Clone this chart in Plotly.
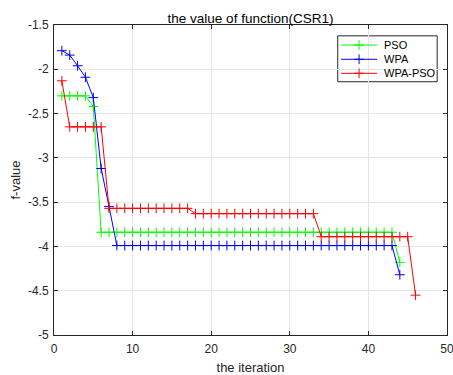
import plotly.graph_objects as go

# ---- data ----
pso_vals = [-2.30, -2.30, -2.30, -2.30, -2.42,
            -3.84, -3.84, -3.84, -3.84, -3.84, -3.84, -3.84, -3.84, -3.84, -3.84,
            -3.84, -3.84, -3.84, -3.84, -3.84, -3.84, -3.84, -3.84, -3.84, -3.84,
            -3.84, -3.84, -3.84, -3.84, -3.84, -3.84, -3.84, -3.84, -3.84, -3.84,
            -3.84, -3.84, -3.84, -3.84, -3.84, -3.84, -3.84, -3.84,
            -4.18]
wpa_vals = [-1.79, -1.84, -1.96, -2.09, -2.32, -3.12, -3.55,
            -3.99, -3.99, -3.99, -3.99, -3.99, -3.99, -3.99, -3.99, -3.99, -3.99,
            -3.99, -3.99, -3.99, -3.99, -3.99, -3.99, -3.99, -3.99, -3.99, -3.99,
            -3.99, -3.99, -3.99, -3.99, -3.99, -3.99, -3.99, -3.99, -3.99, -3.99,
            -3.99, -3.99, -3.99, -3.99, -3.99, -3.99,
            -4.32]
wpapso_vals = [-2.13,
               -2.65, -2.65, -2.65, -2.65, -2.65,
               -3.57, -3.57, -3.57, -3.57, -3.57, -3.57, -3.57, -3.57, -3.57, -3.57, -3.57,
               -3.63, -3.63, -3.63, -3.63, -3.63, -3.63, -3.63, -3.63, -3.63, -3.63,
               -3.63, -3.63, -3.63, -3.63, -3.63, -3.63,
               -3.89, -3.89, -3.89, -3.89, -3.89, -3.89, -3.89, -3.89, -3.89, -3.89,
               -3.89, -3.89,
               -4.55]
series_names = ["PSO", "WPA", "WPA-PSO"]
series_colors = ["#00FF00", "#0000FF", "#FF0000"]

x_tickvals = [0, 10, 20, 30, 40, 50]
y_tickvals = [-5, -4.5, -4, -3.5, -3, -2.5, -2, -1.5]
y_ticktext = ["-5", "-4.5", "-4", "-3.5", "-3", "-2.5", "-2", "-1.5"]

title_text = "the value of function(CSR1)"
x_label = "the iteration"
y_label = "f-value"

FONT = "Liberation Sans, Arial, sans-serif"
MARKER_SIZE = 7

fig = go.Figure()
for name, vals, col in zip(series_names, [pso_vals, wpa_vals, wpapso_vals], series_colors):
    fig.add_trace(go.Scatter(
        x=list(range(1, len(vals) + 1)), y=vals, name=name,
        mode="lines+markers", showlegend=False,
        line=dict(color=col, width=1),
        marker=dict(symbol="cross-thin", size=MARKER_SIZE, line=dict(color=col, width=1), color=col),
    ))

# ---- compact MATLAB-style legend (box, sample lines, markers, labels) on a hidden overlay axis ----
leg_box = dict(x0=0.722, x1=0.975, y0=0.817, y1=0.965)
leg_rows = [0.9355, 0.8894, 0.8442]
leg_line_x = [0.7305, 0.822]
leg_text_x = 0.8345

fig.add_shape(type="rect", xref="paper", yref="paper", **leg_box,
              line=dict(color="#262626", width=1), fillcolor="white", layer="between")
for name, col, ry in zip(series_names, series_colors, leg_rows):
    fig.add_trace(go.Scatter(
        x=leg_line_x, y=[ry, ry], xaxis="x2", yaxis="y2", mode="lines",
        line=dict(color=col, width=1), showlegend=False, hoverinfo="skip"))
    fig.add_trace(go.Scatter(
        x=[sum(leg_line_x) / 2], y=[ry], xaxis="x2", yaxis="y2", mode="markers",
        marker=dict(symbol="cross-thin", size=MARKER_SIZE, line=dict(color=col, width=1), color=col),
        showlegend=False, hoverinfo="skip"))
    fig.add_annotation(x=leg_text_x, y=ry, xref="paper", yref="paper", text=name,
                       showarrow=False, xanchor="left", yanchor="middle",
                       font=dict(family=FONT, size=11, color="#000000"))

axis_common = dict(
    showline=True, linecolor="#262626", linewidth=1, mirror="ticks",
    ticks="inside", ticklen=4, tickcolor="#262626", tickwidth=1,
    showgrid=True, gridcolor="#E6E6E6", gridwidth=1, zeroline=False,
    tickfont=dict(family=FONT, size=12, color="#262626"),
    ticklabeloverflow="allow", automargin=False,
)

fig.update_layout(
    width=453, height=375,
    margin=dict(l=54, r=6, t=25, b=40, autoexpand=False),
    paper_bgcolor="white", plot_bgcolor="white",
    title=dict(text=title_text, x=0.5, xref="paper", xanchor="center",
               y=1, yref="paper", yanchor="bottom", pad=dict(b=2), automargin=False,
               font=dict(family=FONT, size=13.5, color="#000000")),
    xaxis=dict(range=[0, 50], tickvals=x_tickvals, ticklabelstandoff=3,
               title=dict(text=x_label, font=dict(family=FONT, size=13, color="#262626"), standoff=8),
               **axis_common),
    yaxis=dict(range=[-5, -1.5], tickvals=y_tickvals, ticktext=y_ticktext, ticklabelstandoff=2,
               title=dict(text=y_label, font=dict(family=FONT, size=13, color="#262626"), standoff=4),
               **axis_common),
    xaxis2=dict(overlaying="x", range=[0, 1], visible=False, fixedrange=True),
    yaxis2=dict(overlaying="y", range=[0, 1], visible=False, fixedrange=True),
    showlegend=False,
)

fig.write_html("out.html")
